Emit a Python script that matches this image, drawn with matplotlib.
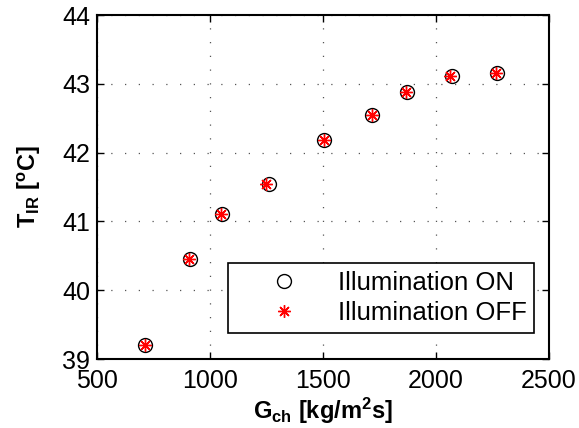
import matplotlib
matplotlib.use("Agg")
import matplotlib.pyplot as plt

plt.rcParams['font.family'] = ['Liberation Sans', 'DejaVu Sans']
plt.rcParams['mathtext.fontset'] = 'custom'
plt.rcParams['mathtext.rm'] = 'Liberation Sans'
plt.rcParams['mathtext.bf'] = 'Liberation Sans:bold'
plt.rcParams['mathtext.it'] = 'Liberation Sans:italic'

g_on = [712, 911, 1053, 1261, 1506, 1718, 1870, 2069, 2268]
t_on = [39.21, 40.45, 41.11, 41.54, 42.18, 42.54, 42.88, 43.11, 43.16]
g_off = [712, 909, 1048, 1248, 1506, 1716, 1868, 2062, 2265]
t_off = [39.21, 40.46, 41.11, 41.54, 42.18, 42.54, 42.88, 43.11, 43.16]
xticks = [500, 1000, 1500, 2000, 2500]
yticks = [39, 40, 41, 42, 43, 44]

fig = plt.figure(figsize=(5.79, 4.28), dpi=100)
ax = fig.add_axes([97/579, 1 - 359/428, 452/579, 344/428])

ax.plot(g_on, t_on, linestyle='none', marker='o', markersize=10, markerfacecolor='none',
        markeredgecolor='black', markeredgewidth=1.0, label='Illumination ON')
ax.plot(g_off, t_off, linestyle='none', marker=(8, 2, 0), markersize=9,
        color='red', markeredgewidth=1.0, label='Illumination OFF')

ax.set_xlim(500, 2500)
ax.set_ylim(39, 44)
ax.set_xticks(xticks)
ax.set_yticks(yticks)
ax.tick_params(direction='in', top=True, right=True, labelsize=18, length=5, width=1)
ax.tick_params(axis='x', pad=7.5)
ax.tick_params(axis='y', pad=5)
ax.grid(True, linestyle=(0, (1, 10)), color='#555555', linewidth=0.9)
for s in ax.spines.values():
    s.set_linewidth(1.5)

ax.set_xlabel(r'$\mathbf{G_{ch}\ [kg/m^2s]}$', fontsize=17, labelpad=2)
ax.set_ylabel(r'$\mathbf{T_{IR}\ [^oC]}$', fontsize=17, labelpad=14)

leg = ax.legend(loc='lower right', bbox_to_anchor=(0.967, 0.075), fontsize=18.5,
                frameon=True, fancybox=False, edgecolor='black', framealpha=1,
                handlelength=3.75, handletextpad=0.22, borderpad=0.3, labelspacing=0.25,
                borderaxespad=0)
leg.get_frame().set_linewidth(1.2)

fig.savefig('out.png', dpi=100)
